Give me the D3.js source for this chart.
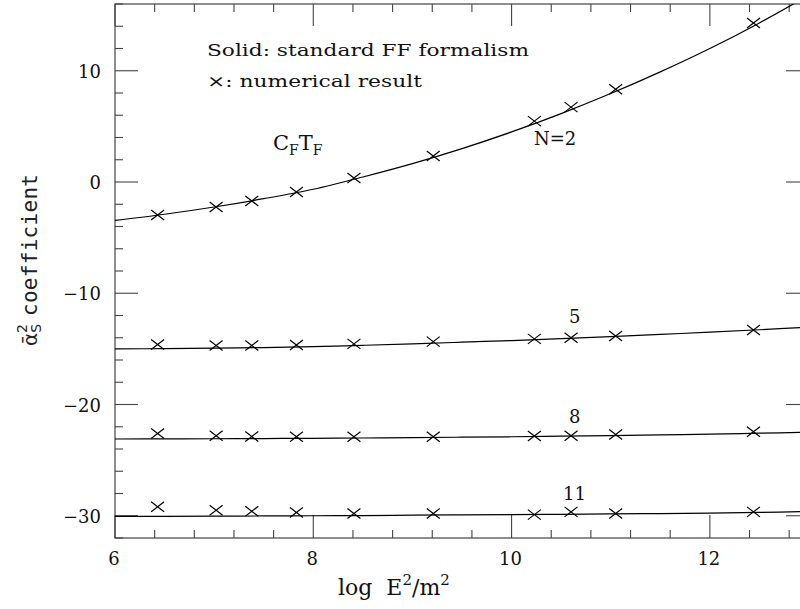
<!DOCTYPE html>
<html>
<head>
<meta charset="utf-8">
<script src="https://cdn.jsdelivr.net/npm/d3@7"></script>
<style>
  body { margin: 0; background: #fff; }
  svg text { font-family: "DejaVu Serif", "Liberation Serif", serif; fill: #111; }
</style>
</head>
<body>
<svg id="chart" width="800" height="609"></svg>
<script>
// ---- data ----
const xPoints = [6.43, 7.02, 7.38, 7.83, 8.41, 9.21, 10.23, 10.6, 11.05, 12.44];
const seriesNames = ["N=2", "5", "8", "11"];
const pointsN2  = [-2.96, -2.24, -1.70, -0.90, 0.36, 2.33, 5.47, 6.73, 8.34, 14.3];
const pointsN5  = [-14.6, -14.7, -14.7, -14.65, -14.55, -14.35, -14.1, -14.0, -13.85, -13.3];
const pointsN8  = [-22.6, -22.8, -22.87, -22.9, -22.9, -22.9, -22.84, -22.8, -22.7, -22.45];
const pointsN11 = [-29.2, -29.5, -29.6, -29.7, -29.8, -29.8, -29.9, -29.65, -29.8, -29.65];

const curveX   = [6, 6.5, 7, 7.5, 8, 8.5, 9, 9.5, 10, 10.5, 11, 11.5, 12, 12.5, 13];
const curveN2  = [-3.45, -2.9, -2.25, -1.5, -0.65, 0.45, 1.65, 3.0, 4.5, 6.15, 7.95, 9.9, 12.0, 14.3, 16.8];
const curveN5  = [-15.0, -14.98, -14.94, -14.88, -14.8, -14.68, -14.55, -14.4, -14.25, -14.08, -13.9, -13.7, -13.5, -13.28, -13.05];
const curveN8  = [-23.1, -23.09, -23.08, -23.06, -23.04, -23.01, -22.98, -22.94, -22.9, -22.85, -22.8, -22.73, -22.66, -22.58, -22.5];
const curveN11 = [-30.05, -30.05, -30.04, -30.02, -30.0, -29.98, -29.95, -29.92, -29.9, -29.87, -29.84, -29.8, -29.76, -29.7, -29.62];

const xMajor = [6, 8, 10, 12];
const yMajor = [-30, -20, -10, 0, 10];
const yTickLabels = ["\u221230", "\u221220", "\u221210", "0", "10"];

// ---- layout ----
const svg = d3.select("#chart");
const x = d3.scaleLinear().domain([6, 13]).range([115, 809]);
const y = d3.scaleLinear().domain([-32, 16]).range([538, 4]);
const X0 = x.range()[0], X1 = x.range()[1], Y0 = y.range()[0], Y1 = y.range()[1];

const defs = svg.append("defs");
defs.append("clipPath").attr("id", "clip").append("rect")
  .attr("x", X0).attr("y", Y1).attr("width", X1 - X0).attr("height", Y0 - Y1);

// frame
svg.append("rect").attr("x", X0).attr("y", Y1).attr("width", X1 - X0).attr("height", Y0 - Y1)
  .attr("fill", "none").attr("stroke", "#444").attr("stroke-width", 1.2);

const xMinor = d3.range(6, 13.001, 0.4).filter(v => !xMajor.some(m => Math.abs(m - v) < 1e-6));
const yMinor = d3.range(-32, 16.001, 2).filter(v => !yMajor.some(m => Math.abs(m - v) < 1e-6));

const ticks = svg.append("g").attr("stroke", "#444").attr("stroke-width", 1.1);
xMajor.forEach(v => {
  ticks.append("line").attr("x1", x(v)).attr("x2", x(v)).attr("y1", Y0).attr("y2", Y0 - 23);
  ticks.append("line").attr("x1", x(v)).attr("x2", x(v)).attr("y1", Y1).attr("y2", Y1 + 22);
});
xMinor.forEach(v => {
  ticks.append("line").attr("x1", x(v)).attr("x2", x(v)).attr("y1", Y0).attr("y2", Y0 - 8);
  ticks.append("line").attr("x1", x(v)).attr("x2", x(v)).attr("y1", Y1).attr("y2", Y1 + 8);
});
yMajor.forEach(v => {
  ticks.append("line").attr("x1", X0).attr("x2", X0 + 23).attr("y1", y(v)).attr("y2", y(v));
  ticks.append("line").attr("x1", X1).attr("x2", X1 - 23).attr("y1", y(v)).attr("y2", y(v));
});
yMinor.forEach(v => {
  ticks.append("line").attr("x1", X0).attr("x2", X0 + 8).attr("y1", y(v)).attr("y2", y(v));
  ticks.append("line").attr("x1", X1).attr("x2", X1 - 8).attr("y1", y(v)).attr("y2", y(v));
});

// tick labels
svg.append("g").selectAll("text").data(xMajor).join("text")
  .attr("x", d => x(d) - 1).attr("y", 565).attr("text-anchor", "middle")
  .attr("font-size", 18).text(d => d);
svg.append("g").selectAll("text").data(yMajor).join("text")
  .attr("x", 101).attr("y", d => y(d) + 7).attr("text-anchor", "end")
  .attr("font-size", 18).text((d, i) => yTickLabels[i]);

// curves
const line = d3.line().x(d => x(d[0])).y(d => y(d[1])).curve(d3.curveCatmullRom);
const curves = [curveN2, curveN5, curveN8, curveN11];
const plot = svg.append("g").attr("clip-path", "url(#clip)");
curves.forEach(c => {
  plot.append("path").datum(curveX.map((xv, i) => [xv, c[i]]))
    .attr("d", line).attr("fill", "none").attr("stroke", "#000").attr("stroke-width", 1.2);
});

// markers
const pts = [pointsN2, pointsN5, pointsN8, pointsN11];
const hw = 6.5, hh = 5;
pts.forEach(p => {
  p.forEach((v, i) => {
    const cx = x(xPoints[i]), cy = y(v);
    plot.append("path")
      .attr("d", `M${cx - hw},${cy - hh}L${cx + hw},${cy + hh}M${cx - hw},${cy + hh}L${cx + hw},${cy - hh}`)
      .attr("stroke", "#000").attr("stroke-width", 1.2).attr("fill", "none");
  });
});

// annotations
svg.append("text").attr("x", 207).attr("y", 56).attr("font-size", 17)
  .attr("textLength", 322).attr("lengthAdjust", "spacingAndGlyphs")
  .text("Solid: standard FF formalism");
svg.append("text").attr("x", 207).attr("y", 87).attr("font-size", 17)
  .attr("textLength", 215).attr("lengthAdjust", "spacingAndGlyphs")
  .text("\u00d7: numerical result");

const cf = svg.append("text").attr("x", 273).attr("y", 150).attr("font-size", 21);
cf.append("tspan").text("C");
cf.append("tspan").attr("font-size", 14).attr("dy", 5).text("F");
cf.append("tspan").attr("dy", -5).text("T");
cf.append("tspan").attr("font-size", 14).attr("dy", 5).text("F");

const labelPos = [[534, 145], [569, 323], [569, 423], [563, 500]];
seriesNames.forEach((s, i) => {
  svg.append("text").attr("x", labelPos[i][0]).attr("y", labelPos[i][1])
    .attr("font-size", 18).text(s);
});

// axis titles
const xt = svg.append("text").attr("x", 338).attr("y", 595).attr("font-size", 22);
xt.append("tspan").text("log\u00a0\u00a0E");
xt.append("tspan").attr("font-size", 15).attr("dy", -10).text("2");
xt.append("tspan").attr("dy", 10).text("/m");
xt.append("tspan").attr("font-size", 15).attr("dy", -10).text("2");

const yt = svg.append("text").attr("transform", "translate(37,346) rotate(-90)")
  .attr("font-size", 20).style("font-family", "'DejaVu Sans', sans-serif").style("fill", "#222");
yt.append("tspan").text("\u1FB1");
yt.append("tspan").attr("font-size", 14).attr("dy", 4).text("S");
yt.append("tspan").attr("font-size", 14).attr("dx", -9).attr("dy", -14).text("2");
yt.append("tspan").attr("dy", 10).attr("dx", 8)
  .style("font-family", "'DejaVu Sans Mono', monospace").attr("font-size", 21)
  .attr("textLength", 142).attr("lengthAdjust", "spacing").text("coefficient");
</script>
</body>
</html>
